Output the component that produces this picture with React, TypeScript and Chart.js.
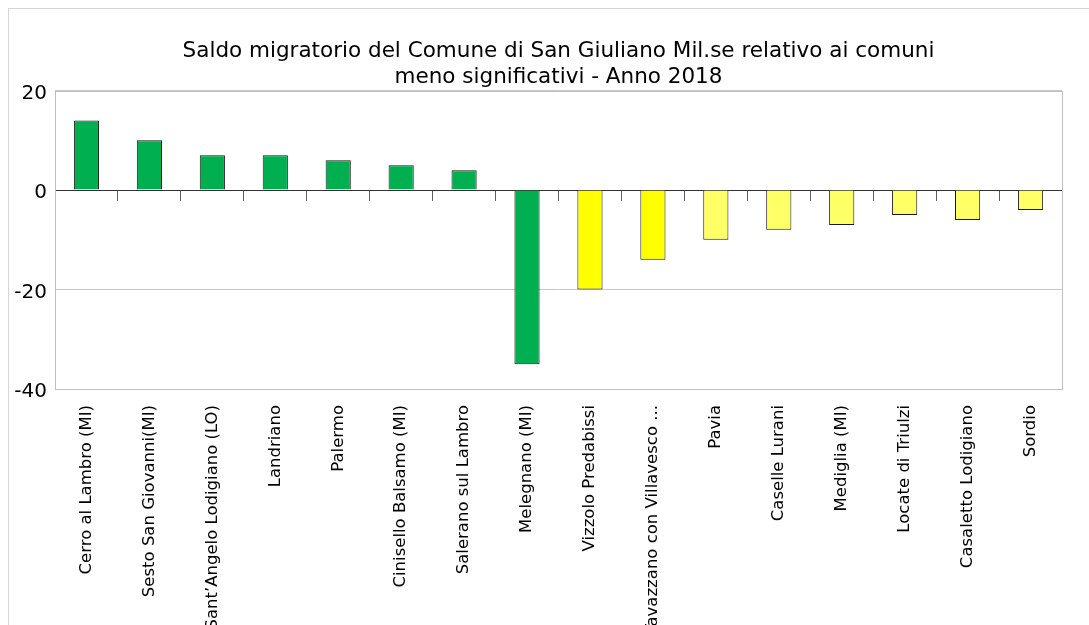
import React, { useEffect, useRef } from "react";
import { Chart, registerables } from "chart.js";

Chart.register(...registerables);

const TITLE_LINES = [
  "Saldo migratorio del Comune di San Giuliano Mil.se relativo ai comuni",
  "meno significativi - Anno 2018",
];

const CATEGORIES = [
  "Cerro al Lambro (MI)",
  "Sesto San Giovanni(MI)",
  "Sant\u2019Angelo Lodigiano (LO)",
  "Landriano",
  "Palermo",
  "Cinisello Balsamo (MI)",
  "Salerano sul Lambro",
  "Melegnano (MI)",
  "Vizzolo Predabissi",
  "Tavazzano con Villavesco ...",
  "Pavia",
  "Caselle Lurani",
  "Mediglia (MI)",
  "Locate di Triulzi",
  "Casaletto Lodigiano",
  "Sordio",
];

const SALDO = [14, 10, 7, 7, 6, 5, 4, -35, -20, -14, -10, -8, -7, -5, -6, -4];

const BAR_COLORS = [
  "#00b050", "#00b050", "#00b050", "#00b050", "#00b050", "#00b050", "#00b050", "#00b050",
  "#ffff00", "#ffff00",
  "#ffff66", "#ffff66", "#ffff66", "#ffff66", "#ffff66", "#ffff66",
];

const Y_MIN = -40;
const Y_MAX = 20;
const Y_STEP = 20;

const FONT = "'DejaVu Sans', Verdana, sans-serif";

const framePlugin = {
  id: "plotFrame",
  beforeDatasetsDraw(chart: any) {
    const { ctx, chartArea } = chart;
    ctx.save();
    ctx.strokeStyle = "#c0c0c0";
    ctx.lineWidth = 1;
    ctx.strokeRect(
      Math.round(chartArea.left) + 0.5,
      Math.round(chartArea.top) + 0.5,
      Math.round(chartArea.right - chartArea.left),
      Math.round(chartArea.bottom - chartArea.top)
    );
    ctx.restore();
  },
};

export default function App() {
  const ref = useRef<HTMLCanvasElement | null>(null);

  useEffect(() => {
    if (!ref.current) return;
    const chart = new Chart(ref.current, {
      type: "bar",
      data: {
        labels: CATEGORIES,
        datasets: [
          {
            data: SALDO,
            backgroundColor: BAR_COLORS,
            borderColor: "#1a1a1a",
            borderWidth: 1,
            categoryPercentage: 1,
            barPercentage: 0.4,
          },
        ],
      },
      options: {
        responsive: false,
        animation: false,
        devicePixelRatio: 1,
        layout: { padding: { left: 0, right: 27, top: 0, bottom: 0 } },
        plugins: {
          legend: { display: false },
          tooltip: { enabled: false },
          title: {
            display: true,
            text: TITLE_LINES,
            fullSize: false,
            color: "#000000",
            font: { family: FONT, size: 21.5, weight: "normal", lineHeight: 1.2 },
            padding: { top: 30, bottom: 0 },
          },
        },
        scales: {
          x: {
            type: "category",
            position: "bottom",
            offset: true,
            grid: { display: false },
            border: { display: false },
            ticks: {
              autoSkip: false,
              maxRotation: 90,
              minRotation: 90,
              padding: 8,
              color: "#000000",
              font: { family: FONT, size: 16.5 },
            },
            afterFit: (s: any) => {
              s.height = 236;
            },
          },
          x2: {
            type: "category",
            labels: CATEGORIES,
            position: { y: 0 } as any,
            offset: true,
            grid: {
              display: true,
              offset: true,
              drawOnChartArea: false,
              drawTicks: true,
              tickLength: 10,
              color: "#606060",
            },
            border: { display: true, color: "#333333", width: 1 },
            ticks: { display: false },
            afterFit: (s: any) => {
              s.height = 0;
            },
          },
          y: {
            min: Y_MIN,
            max: Y_MAX,
            grid: {
              color: "#c8c8c8",
              drawTicks: false,
            },
            border: { display: false },
            ticks: {
              stepSize: Y_STEP,
              padding: 8,
              labelOffset: 3,
              color: "#000000",
              font: { family: FONT, size: 20 },
            },
            afterFit: (s: any) => {
              s.width = 46;
            },
          },
        },
      },
      plugins: [framePlugin],
    });
    return () => chart.destroy();
  }, []);

  return (
    <div
      style={{
        position: "absolute",
        left: 8,
        top: 8,
        width: 1081,
        height: 617,
        boxSizing: "border-box",
        borderTop: "1px solid #d6d6d6",
        borderLeft: "1px solid #d6d6d6",
        overflow: "hidden",
        background: "#ffffff",
      }}
    >
      <canvas ref={ref} width={1080} height={616} style={{ display: "block" }} />
    </div>
  );
}
